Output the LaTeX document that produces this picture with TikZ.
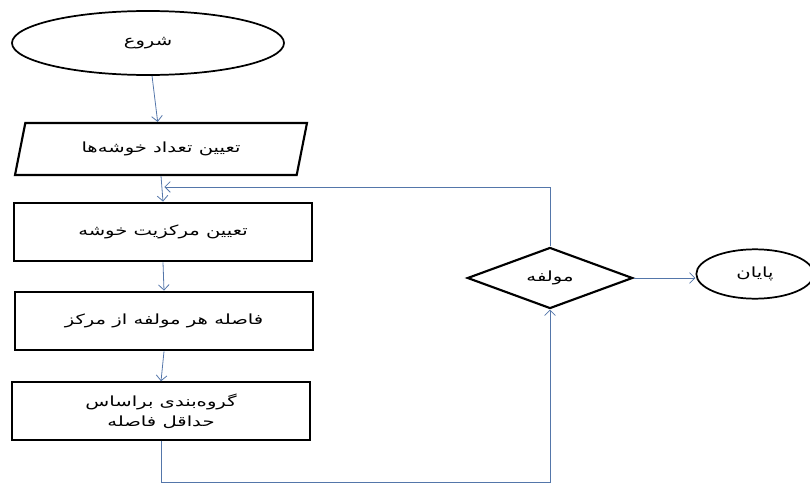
\documentclass[tikz,border=0pt]{standalone}
\usepackage{fontspec}
\usepackage{graphicx}
\newfontfamily\farsifont[Script=Arabic]{DejaVu Sans}
\TeXXeTstate=1
\newcommand{\fatext}[1]{\scalebox{1.4}[1]{\beginR #1\endR}}
\usetikzlibrary{shapes.geometric, arrows.meta}

\begin{document}
\begin{tikzpicture}[x = 0.75pt, y = -0.75pt,
    nodes = {draw = black, line width = 1.6pt, align = center,
    font = \farsifont\fontsize{10.5}{15}\selectfont, inner sep = 2pt},
    box/.style = {rectangle, minimum width = 223pt, minimum height = 44pt},
    link/.style = {draw = {rgb,255:red,84;green,118;blue,170}, line width = 0.6pt,
    -{Straight Barb[length = 4pt, width = 8pt]}}]
 \useasboundingbox (0,0) rectangle (810,485);
 \path node[ellipse, line width = 1.3pt, minimum width = 204pt, minimum height = 48pt] (start) at (148,43)
 {\fatext{شروع}}

 node[trapezium, trapezium left angle = 62, trapezium right angle = 118,
 trapezium stretches body, minimum width = 219pt, minimum height = 39pt] (count) at (161,149)
 {\fatext{تعیین تعداد خوشه‌ها}}

 node[box] (centroid) at (163,232)
 {\fatext{تعیین مرکزیت خوشه}}

 node[box] (dist) at (164,321)
 {\fatext{فاصله هر مولفه از مرکز}}

 node[box, minimum height = 43pt] (group) at (161,411)
 {\fatext{گروه‌بندی براساس}\\ \fatext{حداقل فاصله}}

 node[diamond, minimum width = 124pt, minimum height = 44pt, inner sep = 0pt] (check) at (550,278)
 {\fatext{مولفه}}

 node[ellipse, line width = 1.3pt, minimum width = 88pt, minimum height = 37pt] (end) at (755,274)
 {\fatext{پایان}};

 \draw[link] (start) -- (count);
 \draw[link] (count.south) -- (centroid.north);
 \draw[link] (centroid.south) -- (dist.north);
 \draw[link] (dist.south) -- (group.north);
 \draw[link] (group.south) -- (group.south |- 0,482) -| (check.south);
 \draw[link] (check.north) |- ([xshift = 1pt, yshift = 11pt]centroid.north);
 \draw[link] (check.east) -- (check.east -| end.west);
\end{tikzpicture}
\end{document}
